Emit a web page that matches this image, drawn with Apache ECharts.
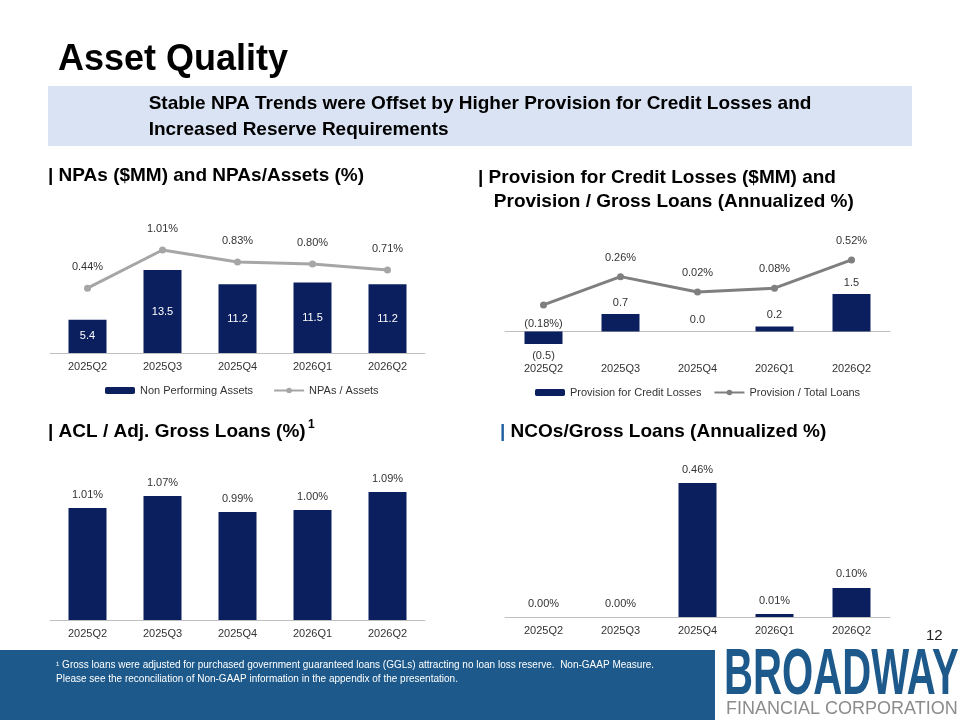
<!DOCTYPE html><html><head><meta charset="utf-8">
<script src="https://cdn.jsdelivr.net/npm/echarts@6/dist/echarts.min.js"></script>
<style>body{margin:0}#c{width:960px;height:720px}</style></head><body><div id="c"></div><script>
const categories=['2025Q2','2025Q3','2025Q4','2026Q1','2026Q2'];
const npaValues=[5.4,13.5,11.2,11.5,11.2];
const npaAssetsPct=[0.44,1.01,0.83,0.80,0.71];
const provisionValues=[-0.5,0.7,0.0,0.2,1.5];
const provisionPct=[-0.18,0.26,0.02,0.08,0.52];
const aclPct=[1.01,1.07,0.99,1.00,1.09];
const ncoPct=[0.00,0.00,0.46,0.01,0.10];
const NAVY='#0b1f5e',F='Arial, Liberation Sans, sans-serif';
const fmtPct=v=>v<0?'('+Math.abs(v).toFixed(2)+'%)':v.toFixed(2)+'%';
const fmtNum=v=>v<0?'('+Math.abs(v).toFixed(1)+')':v.toFixed(1);
const grids=[
 {left:50,right:535,top:240,height:113},{left:50,right:535,top:240,height:113},
 {left:505,right:70,top:240,height:104},{left:505,right:70,top:240,height:90},
 {left:50,right:535,top:470,height:150},{left:505,right:70,top:470,height:147}];
const xa=i=>({type:'category',data:categories,gridIndex:i,show:i%2===0||i>=4,
 axisTick:{show:false},axisLine:{lineStyle:{color:'#bfbfbf'}},
 axisLabel:{color:'#333',fontFamily:F,fontSize:11,margin:8}});
const ya=(i,min,max)=>({type:'value',gridIndex:i,min,max,show:false,splitLine:{show:false}});
const c=echarts.init(document.getElementById('c'));
const gTxt=(x,y,t,s,w,col)=>({type:'text',left:x,top:y,style:{text:t,font:(w||'bold')+' '+s+'px '+F,fill:col||'#000'}});
const lbl={color:'#333',fontSize:11,fontFamily:F};
c.setOption({
 animation:false,
 grid:grids,
 xAxis:[xa(0),xa(1),xa(2),xa(3),xa(4),xa(5)].map((a,i)=>{if(i===2){a.axisLabel.margin=19}return a;}),
 yAxis:[ya(0,0,18.4),ya(1,-0.53,1.16),ya(2,-0.5,3.66),ya(3,-0.57,0.83),ya(4,0.45,1.2),ya(5,0,0.505)],
 legend:[{data:['Non Performing Assets','NPAs / Assets'],left:100,top:380,itemWidth:30,itemHeight:7,itemGap:20,textStyle:{fontSize:11,fontFamily:F,color:'#333'}},
  {data:['Provision for Credit Losses','Provision / Total Loans'],left:530,top:382,itemWidth:30,itemHeight:7,itemGap:12,textStyle:{fontSize:11,fontFamily:F,color:'#333'}}],
 series:[
  {name:'Non Performing Assets',type:'bar',data:npaValues,xAxisIndex:0,yAxisIndex:0,barWidth:38,itemStyle:{color:NAVY},
   label:{show:true,position:'inside',color:'#fff',fontSize:11,fontFamily:F,formatter:p=>p.value.toFixed(1)}},
  {name:'NPAs / Assets',type:'line',data:npaAssetsPct,xAxisIndex:1,yAxisIndex:1,symbol:'circle',symbolSize:7,
   lineStyle:{color:'#a6a6a6',width:3},itemStyle:{color:'#a6a6a6'},
   label:Object.assign({show:true,position:'top',distance:12,formatter:p=>fmtPct(p.value)},lbl)},
  {name:'Provision for Credit Losses',type:'bar',xAxisIndex:2,yAxisIndex:2,barWidth:38,itemStyle:{color:NAVY},clip:false,
   data:provisionValues.map(v=>({value:v,label:{position:v<0?'bottom':'top'}})),
   label:Object.assign({show:true,distance:6,formatter:p=>fmtNum(p.value)},lbl)},
  {name:'Provision / Total Loans',type:'line',xAxisIndex:3,yAxisIndex:3,symbol:'circle',symbolSize:7,
   data:provisionPct.map(v=>({value:v,label:{position:v<0?'bottom':'top'}})),
   lineStyle:{color:'#7f7f7f',width:3},itemStyle:{color:'#7f7f7f'},
   label:Object.assign({show:true,distance:10,formatter:p=>fmtPct(p.value)},lbl)},
  {type:'bar',data:aclPct,xAxisIndex:4,yAxisIndex:4,barWidth:38,itemStyle:{color:NAVY},
   label:Object.assign({show:true,position:'top',distance:8,formatter:p=>fmtPct(p.value)},lbl)},
  {type:'bar',data:ncoPct,xAxisIndex:5,yAxisIndex:5,barWidth:38,itemStyle:{color:NAVY},
   label:Object.assign({show:true,position:'top',distance:8,formatter:p=>fmtPct(p.value)},lbl)}
 ],
 graphic:[
  gTxt(58,42,'Asset Quality',36),
  {type:'rect',shape:{x:48,y:86,width:864,height:60},style:{fill:'#dae3f3'}},
  {type:'text',left:'center',top:91,style:{text:'Stable NPA Trends were Offset by Higher Provision for Credit Losses and\nIncreased Reserve Requirements',font:'bold 19px '+F,fill:'#000',align:'center',lineHeight:26}},
  gTxt(48,166,'| NPAs ($MM) and NPAs/Assets (%)',19),
  {type:'text',left:478,top:166,style:{text:'| Provision for Credit Losses ($MM) and\n   Provision / Gross Loans (Annualized %)',font:'bold 19px '+F,fill:'#000',lineHeight:24}},
  gTxt(48,422,'| ACL / Adj. Gross Loans (%)',19),
  gTxt(308,419,'1',12),
  {type:'text',left:500,top:422,style:{rich:{a:{fill:'#1f5fa0',font:'bold 19px '+F},b:{fill:'#000',font:'bold 19px '+F}},text:'{a|| }{b|NCOs/Gross Loans (Annualized %)}'}},
  gTxt(926,628,'12',15,'normal','#222'),
  {type:'rect',shape:{x:0,y:650,width:715,height:70},style:{fill:'#1d5a8b'}},
  {type:'text',left:56,top:658,style:{text:'¹ Gross loans were adjusted for purchased government guaranteed loans (GGLs) attracting no loan loss reserve.  Non-GAAP Measure.\nPlease see the reconciliation of Non-GAAP information in the appendix of the presentation.',font:'10px '+F,fill:'#fff',lineHeight:14}},
  {type:'text',x:724,y:644,scaleX:0.627,style:{text:'BROADWAY',font:'bold 64px '+F,fill:'#1d5a8b'}},
  {type:'text',left:726,top:700,style:{text:'FINANCIAL CORPORATION',font:'18px '+F,fill:'#8c8c8c'}}
 ]
});
</script></body></html>
